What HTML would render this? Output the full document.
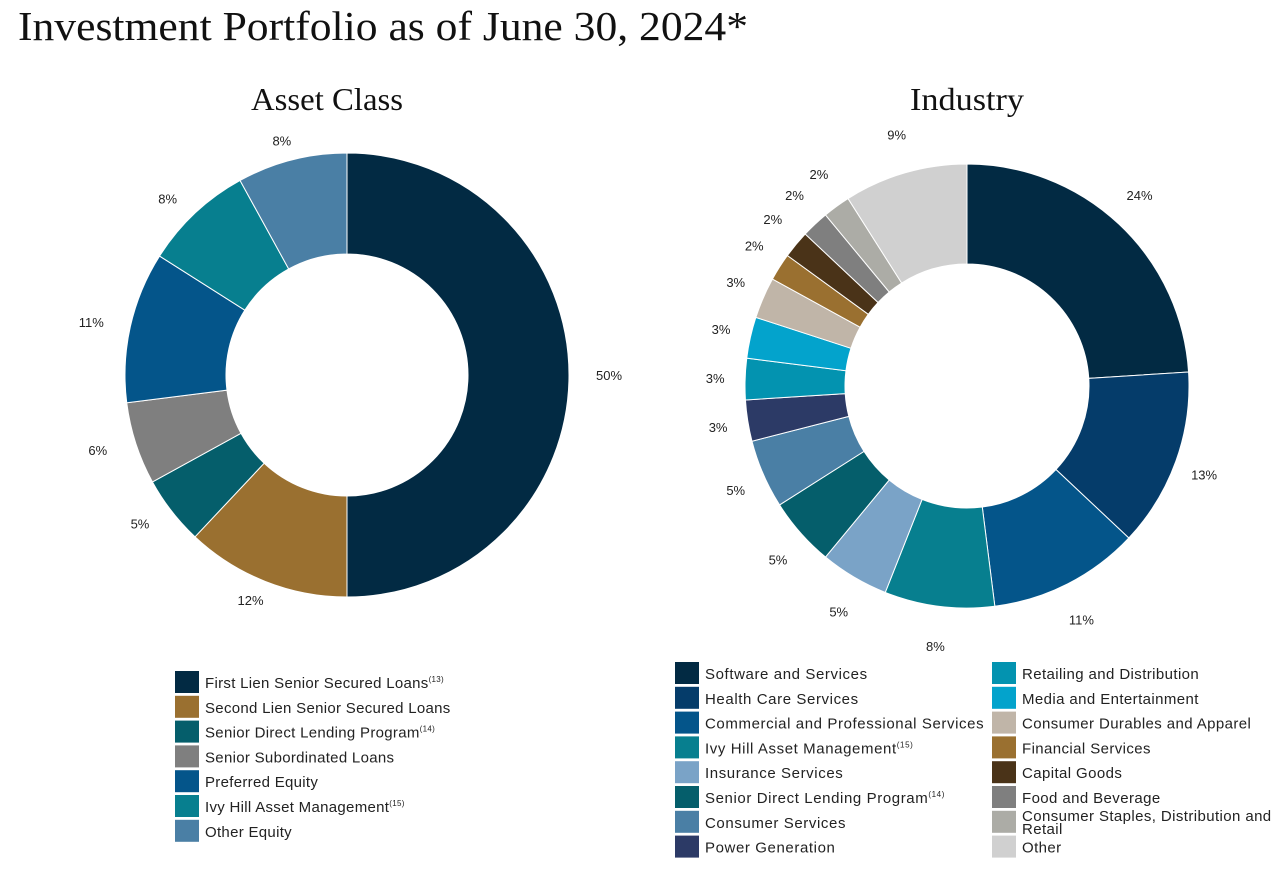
<!DOCTYPE html>
<html><head><meta charset="utf-8">
<style>
body{margin:0;background:#fff;width:1283px;height:871px;overflow:hidden}
svg text{font-family:"Liberation Sans",sans-serif}
.serif{font-family:"Liberation Serif",serif}
</style></head>
<body>
<svg id="chart" width="1283" height="871" viewBox="0 0 1283 871">
<text class="serif" x="18" y="40" font-size="41" textLength="730" lengthAdjust="spacingAndGlyphs" fill="#111">Investment Portfolio as of June 30, 2024*</text>
<text class="serif" x="251" y="110" font-size="32" textLength="152" lengthAdjust="spacingAndGlyphs" fill="#111">Asset Class</text>
<text class="serif" x="910" y="110" font-size="32" textLength="114" lengthAdjust="spacingAndGlyphs" fill="#111">Industry</text>
<g id="left"></g><g id="right"></g><g id="legends"></g>
</svg>
<script>
const assetCats=["First Lien Senior Secured Loans","Second Lien Senior Secured Loans","Senior Direct Lending Program","Senior Subordinated Loans","Preferred Equity","Ivy Hill Asset Management","Other Equity"];
const assetSup=["(13)","","(14)","","","(15)",""];
const assetVals=[50,12,5,6,11,8,8];
const assetColors=["#022a43","#9a7030","#055e6b","#7f7f7f","#04558a","#077f8f","#4a7fa5"];
const indCats=["Software and Services","Health Care Services","Commercial and Professional Services","Ivy Hill Asset Management","Insurance Services","Senior Direct Lending Program","Consumer Services","Power Generation","Retailing and Distribution","Media and Entertainment","Consumer Durables and Apparel","Financial Services","Capital Goods","Food and Beverage","Consumer Staples, Distribution and Retail","Other"];
const indSup=["","","","(15)","","(14)","","","","","","","","","",""];
const indVals=[24,13,11,8,5,5,5,3,3,3,3,2,2,2,2,9];
const indColors=["#022a43","#053c6a","#04558a","#077f8f","#7aa3c7","#055e6b","#4a7fa5","#2c3a66","#0393b0","#03a3cc","#c0b5a8","#9a7030","#4a3318","#7f7f7f","#acaca6","#d0d0d0"];
const NS="http://www.w3.org/2000/svg";
function mk(t,a,p){const e=document.createElementNS(NS,t);for(const k in a)e.setAttribute(k,a[k]);p.appendChild(e);return e;}
function donut(g,vals,colors,cats,cx,cy,R,r,lrx,lry,prefix){
  const tot=vals.reduce((a,b)=>a+b,0);let a0=0;
  vals.forEach((v,i)=>{
    const a1=a0+v/tot*2*Math.PI;
    const p=(a,rad)=>[cx+rad*Math.sin(a),cy-rad*Math.cos(a)];
    const [x1,y1]=p(a0,R),[x2,y2]=p(a1,R),[x3,y3]=p(a1,r),[x4,y4]=p(a0,r);
    const lg=(a1-a0)>Math.PI?1:0;
    const path=mk('path',{d:`M${x1},${y1}A${R},${R} 0 ${lg} 1 ${x2},${y2}L${x3},${y3}A${r},${r} 0 ${lg} 0 ${x4},${y4}Z`,fill:colors[i],stroke:'#fff','stroke-width':1},g);
    
    
    const am=(a0+a1)/2;const lx=cx+lrx*Math.sin(am),ly=cy-lry*Math.cos(am);
    const t=mk('text',{x:lx,y:ly+5,'font-size':13,'text-anchor':'middle',fill:'#222'},g);
    t.textContent=v+'%';
    
    
    a0=a1;
  });
}
donut(document.getElementById('left'),assetVals,assetColors,assetCats,347,375,222,121,262,242,'asset');
donut(document.getElementById('right'),indVals,indColors,indCats,967,386,222,122,252,262,'industry');
const L=document.getElementById('legends');
function legend(cats,sups,colors,x,y0,ls){
  cats.forEach((c,i)=>{
    const y=y0+i*24.8;
    const s=mk('rect',{x:x,y:y,width:24,height:22,fill:colors[i]},L);
    
    
    const t=mk('text',{x:x+30,y:y+17,'font-size':15,'letter-spacing':ls,fill:'#222'},L);
    
    
    if(c.indexOf('Consumer Staples')===0){
      t.setAttribute('y',y+10);t.textContent='Consumer Staples, Distribution and';
      const t2=mk('text',{x:x+30,y:y+23,'font-size':15,'letter-spacing':ls,fill:'#222'},L);t2.textContent='Retail';
      
      
    } else {
      t.textContent=c;
      if(sups[i]){const ts=mk('tspan',{'font-size':8,dy:-6},t);ts.textContent=sups[i];}
    }
  });
}
legend(assetCats,assetSup,assetColors,175,671,0.3);
legend(indCats.slice(0,8),indSup.slice(0,8),indColors.slice(0,8),675,662,0.6);
legend(indCats.slice(8),indSup.slice(8),indColors.slice(8),992,662,0.4);
</script>
</body></html>
